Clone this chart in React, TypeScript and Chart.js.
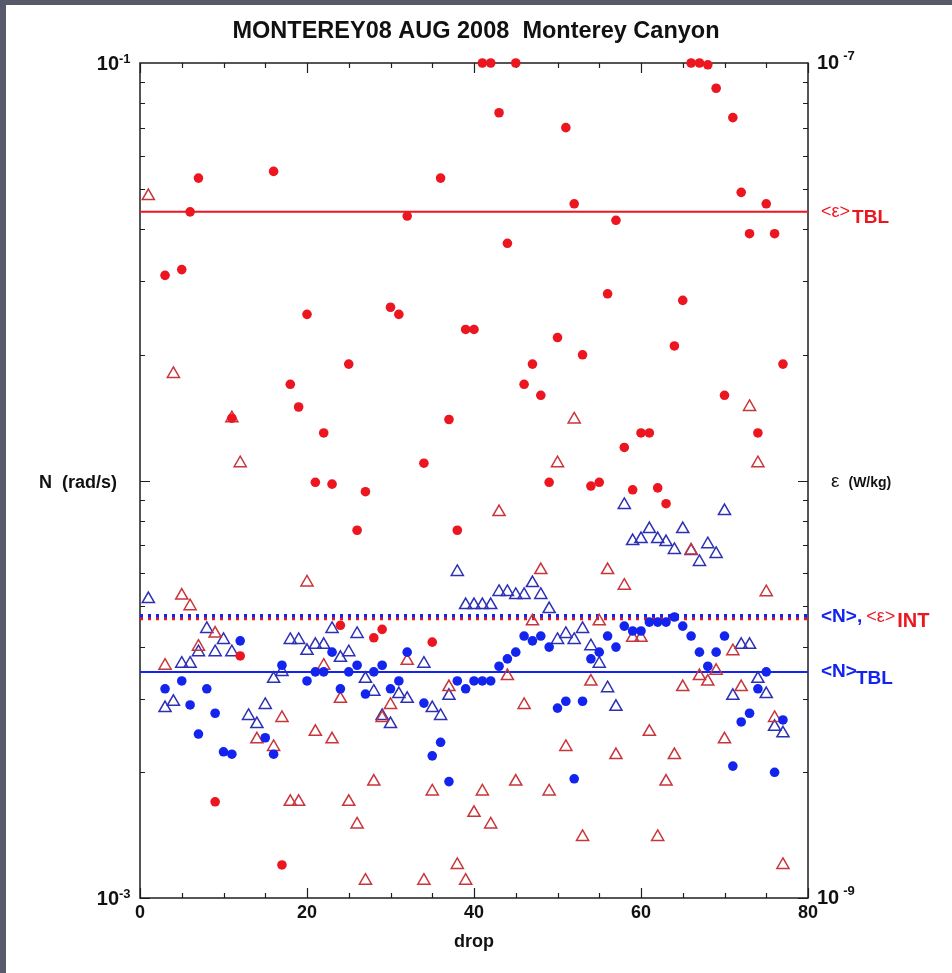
import React, { useEffect, useRef } from "react";
import { Chart, registerables } from "chart.js";

Chart.register(...registerables);

// ---------------- data ----------------
const TITLE = "MONTEREY08 AUG 2008  Monterey Canyon";
const X_TITLE = "drop";

// epsilon, turbulent boundary layer (red filled circles), W/kg
const epsTblDrops = [3, 5, 6, 7, 9, 11, 12, 16, 17, 18, 19, 20, 21, 22, 23, 24, 25, 26, 27, 28, 29, 30, 31, 32, 34, 35, 36, 37, 38, 39, 40, 41, 42, 43, 44, 45, 46, 47, 48, 49, 50, 51, 52, 53, 54, 55, 56, 57, 58, 59, 60, 61, 62, 63, 64, 65, 66, 67, 68, 69, 70, 71, 72, 73, 74, 75, 76, 77];
const epsTblValues = [3.1e-8, 3.2e-8, 4.4e-8, 5.3e-8, 1.7e-9, 1.41e-8, 3.8e-9, 5.5e-8, 1.2e-9, 1.7e-8, 1.5e-8, 2.5e-8, 9.9e-9, 1.3e-8, 9.8e-9, 4.5e-9, 1.9e-8, 7.6e-9, 9.4e-9, 4.2e-9, 4.4e-9, 2.6e-8, 2.5e-8, 4.3e-8, 1.1e-8, 4.1e-9, 5.3e-8, 1.4e-8, 7.6e-9, 2.3e-8, 2.3e-8, 1e-7, 1e-7, 7.6e-8, 3.7e-8, 1e-7, 1.7e-8, 1.9e-8, 1.6e-8, 9.9e-9, 2.2e-8, 7.0e-8, 4.6e-8, 2.0e-8, 9.7e-9, 9.9e-9, 2.8e-8, 4.2e-8, 1.2e-8, 9.5e-9, 1.3e-8, 1.3e-8, 9.6e-9, 8.8e-9, 2.1e-8, 2.7e-8, 1e-7, 1e-7, 9.9e-8, 8.7e-8, 1.6e-8, 7.4e-8, 4.9e-8, 3.9e-8, 1.3e-8, 4.6e-8, 3.9e-8, 1.9e-8];

// epsilon, interior (red open triangles), W/kg
const epsIntDrops = [1, 3, 4, 5, 6, 7, 9, 11, 12, 14, 16, 17, 18, 19, 20, 21, 22, 23, 24, 25, 26, 27, 28, 29, 30, 32, 34, 35, 37, 38, 39, 40, 41, 42, 43, 44, 45, 46, 47, 48, 49, 50, 51, 52, 53, 54, 55, 56, 57, 58, 59, 60, 61, 62, 63, 64, 65, 66, 67, 68, 69, 70, 71, 72, 73, 74, 75, 76, 77];
const epsIntValues = [4.8e-8, 3.6e-9, 1.8e-8, 5.3e-9, 5.0e-9, 4.0e-9, 4.3e-9, 1.41e-8, 1.1e-8, 2.4e-9, 2.3e-9, 2.7e-9, 1.7e-9, 1.7e-9, 5.7e-9, 2.5e-9, 3.6e-9, 2.4e-9, 3.0e-9, 1.7e-9, 1.5e-9, 1.1e-9, 1.9e-9, 2.7e-9, 2.9e-9, 3.7e-9, 1.1e-9, 1.8e-9, 3.2e-9, 1.2e-9, 1.1e-9, 1.6e-9, 1.8e-9, 1.5e-9, 8.4e-9, 3.4e-9, 1.9e-9, 2.9e-9, 4.6e-9, 6.1e-9, 1.8e-9, 1.1e-8, 2.3e-9, 1.4e-8, 1.4e-9, 3.3e-9, 4.6e-9, 6.1e-9, 2.2e-9, 5.6e-9, 4.2e-9, 4.2e-9, 2.5e-9, 1.4e-9, 1.9e-9, 2.2e-9, 3.2e-9, 6.8e-9, 3.4e-9, 3.3e-9, 3.5e-9, 2.4e-9, 3.9e-9, 3.2e-9, 1.5e-8, 1.1e-8, 5.4e-9, 2.7e-9, 1.2e-9];

// N, interior (blue open triangles), rad/s
const nIntDrops = [1, 3, 4, 5, 6, 7, 8, 9, 10, 11, 13, 14, 15, 16, 17, 18, 19, 20, 21, 22, 23, 24, 25, 26, 27, 28, 29, 30, 31, 32, 34, 35, 36, 37, 38, 39, 40, 41, 42, 43, 44, 45, 46, 47, 48, 49, 50, 51, 52, 53, 54, 55, 56, 57, 58, 59, 60, 61, 62, 63, 64, 65, 66, 67, 68, 69, 70, 71, 72, 73, 74, 75, 76, 77];
const nIntValues = [5.2e-3, 2.85e-3, 2.95e-3, 3.64e-3, 3.64e-3, 3.88e-3, 4.41e-3, 3.88e-3, 4.15e-3, 3.88e-3, 2.73e-3, 2.61e-3, 2.9e-3, 3.35e-3, 3.48e-3, 4.15e-3, 4.15e-3, 3.91e-3, 4.04e-3, 4.04e-3, 4.41e-3, 3.76e-3, 3.88e-3, 4.29e-3, 3.35e-3, 3.12e-3, 2.73e-3, 2.61e-3, 3.08e-3, 3.0e-3, 3.64e-3, 2.85e-3, 2.73e-3, 3.05e-3, 6.04e-3, 5.03e-3, 5.03e-3, 5.03e-3, 5.03e-3, 5.41e-3, 5.41e-3, 5.32e-3, 5.32e-3, 5.68e-3, 5.32e-3, 4.92e-3, 4.15e-3, 4.29e-3, 4.15e-3, 4.41e-3, 4.01e-3, 3.64e-3, 3.18e-3, 2.87e-3, 8.74e-3, 7.16e-3, 7.24e-3, 7.65e-3, 7.24e-3, 7.12e-3, 6.82e-3, 7.65e-3, 6.78e-3, 6.38e-3, 7.04e-3, 6.67e-3, 8.45e-3, 3.05e-3, 4.04e-3, 4.04e-3, 3.35e-3, 3.08e-3, 2.57e-3, 2.48e-3];

// N, turbulent boundary layer (blue filled circles), rad/s
const nTblDrops = [3, 5, 6, 7, 8, 9, 10, 11, 12, 15, 16, 17, 20, 21, 22, 23, 24, 25, 26, 27, 28, 29, 30, 31, 32, 34, 35, 36, 37, 38, 39, 40, 41, 42, 43, 44, 45, 46, 47, 48, 49, 50, 51, 52, 53, 54, 55, 56, 57, 58, 59, 60, 61, 62, 63, 64, 65, 66, 67, 68, 69, 70, 71, 72, 73, 74, 75, 76, 77];
const nTblValues = [3.17e-3, 3.31e-3, 2.9e-3, 2.47e-3, 3.17e-3, 2.77e-3, 2.24e-3, 2.21e-3, 4.13e-3, 2.42e-3, 2.21e-3, 3.61e-3, 3.31e-3, 3.48e-3, 3.48e-3, 3.88e-3, 3.17e-3, 3.48e-3, 3.61e-3, 3.08e-3, 3.48e-3, 3.61e-3, 3.17e-3, 3.31e-3, 3.88e-3, 2.93e-3, 2.19e-3, 2.36e-3, 1.9e-3, 3.31e-3, 3.17e-3, 3.31e-3, 3.31e-3, 3.31e-3, 3.59e-3, 3.74e-3, 3.88e-3, 4.24e-3, 4.13e-3, 4.24e-3, 3.99e-3, 2.85e-3, 2.96e-3, 1.93e-3, 2.96e-3, 3.74e-3, 3.88e-3, 4.24e-3, 3.99e-3, 4.48e-3, 4.36e-3, 4.36e-3, 4.58e-3, 4.58e-3, 4.58e-3, 4.71e-3, 4.48e-3, 4.24e-3, 3.88e-3, 3.59e-3, 3.88e-3, 4.24e-3, 2.07e-3, 2.64e-3, 2.77e-3, 3.17e-3, 3.48e-3, 2.0e-3, 2.67e-3];

// mean levels
const epsTblMean = 4.4e-8;
const epsIntMean = 4.67e-9;
const nTblMean = 3.48e-3;
const nIntMean = 4.74e-3;

// axes
const X_MIN = 0;
const X_MAX = 80;
const xTickLabels = [0, 20, 40, 60, 80];
const nRange = [1e-3, 1e-1];
const epsRange = [1e-9, 1e-7];
const nTickValues = [1e-3, 1e-1];
const nTickExps = ["-3", "-1"];
const epsTickValues = [1e-9, 1e-7];
const epsTickExps = ["-9", "-7"];

// ---------------- styling ----------------
const FONT = "'Liberation Sans', Arial, Helvetica, sans-serif";
const RED = "#ec1620";
const RED_TRI = "#c8353b";
const BLUE = "#1224ee";
const BLUE_TRI = "#2c30b4";
const FRAME = "#575a6b";
const AXIS = "#1e1e1e";

const pts = (drops: number[], values: number[]) => drops.map((d, i) => ({ x: d, y: values[i] }));
const hline = (v: number) => [
  { x: X_MIN, y: v },
  { x: X_MAX, y: v },
];

function txt(
  ctx: CanvasRenderingContext2D,
  s: string,
  x: number,
  y: number,
  font: string,
  color: string,
  align: CanvasTextAlign = "left",
  baseline: CanvasTextBaseline = "alphabetic"
) {
  ctx.font = font;
  ctx.fillStyle = color;
  ctx.textAlign = align;
  ctx.textBaseline = baseline;
  ctx.fillText(s, x, y);
  return ctx.measureText(s).width;
}

const decoPlugin = {
  id: "deco",
  beforeDraw(chart: any) {
    const { ctx, width, height } = chart;
    ctx.save();
    ctx.fillStyle = "#ffffff";
    ctx.fillRect(0, 0, width, height);
    ctx.fillStyle = FRAME;
    ctx.fillRect(0, 0, 6, height);
    ctx.fillRect(0, 0, width, 5);
    ctx.restore();
  },
  beforeDatasetsDraw(chart: any) {
    const { ctx, chartArea } = chart;
    const { left, right, top, bottom } = chartArea;
    const x = chart.scales.x;
    const y = chart.scales.y;
    ctx.save();
    ctx.strokeStyle = AXIS;
    ctx.lineWidth = 1.5;
    ctx.strokeRect(left, top, right - left, bottom - top);
    ctx.lineWidth = 1.2;
    ctx.beginPath();
    for (let v = X_MIN; v <= X_MAX; v += 5) {
      const px = Math.round(x.getPixelForValue(v)) + 0.5;
      const len = v % 20 === 0 ? 10 : 5;
      ctx.moveTo(px, bottom);
      ctx.lineTo(px, bottom - len);
      ctx.moveTo(px, top);
      ctx.lineTo(px, top + len);
    }
    const d0 = Math.round(Math.log10(nRange[0]));
    const d1 = Math.round(Math.log10(nRange[1]));
    for (let d = d0; d < d1; d++) {
      for (let m = 1; m <= 9; m++) {
        const v = m * Math.pow(10, d);
        const py = Math.round(y.getPixelForValue(v)) + 0.5;
        const len = m === 1 ? 10 : 5;
        ctx.moveTo(left, py);
        ctx.lineTo(left + len, py);
        ctx.moveTo(right, py);
        ctx.lineTo(right - len, py);
      }
    }
    ctx.stroke();
    ctx.restore();
  },
  afterDraw(chart: any) {
    const { ctx, chartArea } = chart;
    const { left, right, bottom } = chartArea;
    const x = chart.scales.x;
    const y = chart.scales.y;
    const y2 = chart.scales.y2;
    const black = "#111111";
    ctx.save();
    // title
    txt(ctx, TITLE, (left + right) / 2 + 2, 38, `bold 23.5px ${FONT}`, black, "center");
    // x tick labels
    xTickLabels.forEach((v) => {
      txt(ctx, String(v), x.getPixelForValue(v), bottom + 20, `bold 18px ${FONT}`, black, "center");
    });
    txt(ctx, X_TITLE, (left + right) / 2, bottom + 49, `bold 18px ${FONT}`, black, "center");
    // left tick labels
    nTickValues.forEach((v, i) => {
      const py = y.getPixelForValue(v);
      txt(ctx, "10", left - 21, py + 7, `bold 20px ${FONT}`, black, "right");
      txt(ctx, nTickExps[i], left - 21, py, `bold 13px ${FONT}`, black, "left");
    });
    // right tick labels
    epsTickValues.forEach((v, i) => {
      const py = y2.getPixelForValue(v);
      const w = txt(ctx, "10", right + 9, py + 6, `bold 20px ${FONT}`, black, "left");
      txt(ctx, epsTickExps[i], right + 9 + w + 4, py - 3, `bold 13px ${FONT}`, black, "left");
    });
    // left axis title
    const midN = y.getPixelForValue(Math.sqrt(nRange[0] * nRange[1]));
    txt(ctx, "N  (rad/s)", left - 23, midN + 7, `bold 18px ${FONT}`, black, "right");
    // right axis title
    const midE = y2.getPixelForValue(Math.sqrt(epsRange[0] * epsRange[1]));
    const we = txt(ctx, "\u03b5", right + 23, midE + 6, `19px ${FONT}`, black, "left");
    txt(ctx, "(W/kg)", right + 23 + we + 9, midE + 6, `bold 14px ${FONT}`, black, "left");
    // <eps>TBL
    const pE = y2.getPixelForValue(epsTblMean);
    let w = txt(ctx, "<\u03b5>", right + 13, pE + 5, `18px ${FONT}`, RED, "left");
    txt(ctx, "TBL", right + 13 + w + 2, pE + 11, `bold 19px ${FONT}`, RED, "left");
    // <N>, <eps>INT
    const pI = y.getPixelForValue(nIntMean);
    w = txt(ctx, "<N>,", right + 13, pI + 6, `bold 19px ${FONT}`, BLUE, "left");
    const w2 = txt(ctx, "<\u03b5>", right + 13 + w + 4, pI + 6, `18px ${FONT}`, RED, "left");
    txt(ctx, "INT", right + 13 + w + 4 + w2 + 2, pI + 11, `bold 20px ${FONT}`, RED, "left");
    // <N>TBL
    const pT = y.getPixelForValue(nTblMean);
    w = txt(ctx, "<N>", right + 13, pT + 5, `bold 19px ${FONT}`, BLUE, "left");
    txt(ctx, "TBL", right + 13 + w - 1, pT + 12, `bold 19px ${FONT}`, BLUE, "left");
    ctx.restore();
  },
};

export default function App() {
  const ref = useRef<HTMLCanvasElement>(null);
  useEffect(() => {
    if (!ref.current) return;
    const lineBase = {
      showLine: true,
      pointRadius: 0,
      fill: false,
      clip: false,
      borderCapStyle: "butt" as const,
    };
    const chart = new Chart(ref.current, {
      type: "scatter",
      data: {
        datasets: [
          {
            label: "<eps>TBL",
            data: hline(epsTblMean),
            yAxisID: "y2",
            borderColor: RED,
            borderWidth: 2,
            order: 9,
            ...lineBase,
          },
          {
            label: "<N>TBL",
            data: hline(nTblMean),
            yAxisID: "y",
            borderColor: BLUE,
            borderWidth: 2,
            order: 9,
            ...lineBase,
          },
          {
            label: "<eps>INT",
            data: hline(epsIntMean),
            yAxisID: "y2",
            borderColor: RED,
            borderWidth: 3.5,
            borderDash: [3, 5],
            order: 8,
            ...lineBase,
          },
          {
            label: "<N>INT",
            data: hline(nIntMean),
            yAxisID: "y",
            borderColor: BLUE,
            borderWidth: 3.5,
            borderDash: [3, 5],
            order: 7,
            ...lineBase,
          },
          {
            label: "N INT",
            data: pts(nIntDrops, nIntValues),
            yAxisID: "y",
            pointStyle: "triangle",
            pointRadius: 7,
            pointBorderWidth: 1.5,
            pointBackgroundColor: "rgba(0,0,0,0)",
            pointBorderColor: BLUE_TRI,
            backgroundColor: "rgba(0,0,0,0)",
            borderColor: BLUE_TRI,
            clip: false,
            order: 6,
          },
          {
            label: "eps INT",
            data: pts(epsIntDrops, epsIntValues),
            yAxisID: "y2",
            pointStyle: "triangle",
            pointRadius: 7,
            pointBorderWidth: 1.5,
            pointBackgroundColor: "rgba(0,0,0,0)",
            pointBorderColor: RED_TRI,
            backgroundColor: "rgba(0,0,0,0)",
            borderColor: RED_TRI,
            clip: false,
            order: 5,
          },
          {
            label: "N TBL",
            data: pts(nTblDrops, nTblValues),
            yAxisID: "y",
            pointStyle: "circle",
            pointRadius: 4.8,
            pointBorderWidth: 0,
            pointBackgroundColor: BLUE,
            backgroundColor: BLUE,
            borderColor: BLUE,
            clip: false,
            order: 4,
          },
          {
            label: "eps TBL",
            data: pts(epsTblDrops, epsTblValues),
            yAxisID: "y2",
            pointStyle: "circle",
            pointRadius: 4.8,
            pointBorderWidth: 0,
            pointBackgroundColor: RED,
            backgroundColor: RED,
            borderColor: RED,
            clip: false,
            order: 3,
          },
        ] as any,
      },
      options: {
        responsive: false,
        animation: false,
        devicePixelRatio: 1,
        events: [],
        layout: { padding: { left: 140, right: 144, top: 63, bottom: 75 } },
        plugins: {
          legend: { display: false },
          tooltip: { enabled: false },
          title: { display: false },
        },
        scales: {
          x: { type: "linear", min: X_MIN, max: X_MAX, display: false },
          y: { type: "logarithmic", min: nRange[0], max: nRange[1], display: false },
          y2: { type: "logarithmic", min: epsRange[0], max: epsRange[1], display: false, position: "right" },
        },
      } as any,
      plugins: [decoPlugin],
    });
    return () => chart.destroy();
  }, []);
  return (
    <div style={{ position: "fixed", left: 0, top: 0, width: 952, height: 973, background: "#fff" }}>
      <canvas ref={ref} width={952} height={973} style={{ display: "block", width: 952, height: 973 }} />
    </div>
  );
}
